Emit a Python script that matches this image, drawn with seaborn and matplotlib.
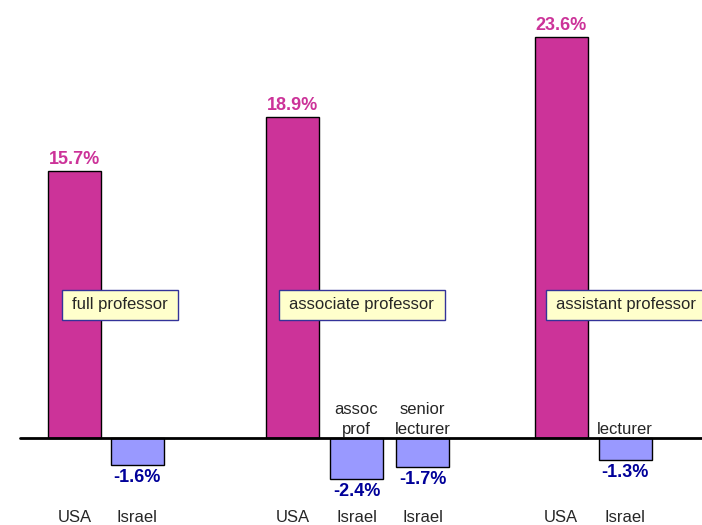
import numpy as np
import pandas as pd
import seaborn as sns
import matplotlib.pyplot as plt
from matplotlib.patches import Rectangle

# data: change in share of women, by rank
groups = ["full professor", "associate professor", "assistant professor"]
usa_change = [15.7, 18.9, 23.6]
israel_rank = ["", "assoc\nprof", "senior\nlecturer", "lecturer"]
israel_change = [-1.6, -2.4, -1.7, -1.3]

# layout (pixel-like x units across the 702 px canvas)
usa_x = [74.5, 292.5, 561]
israel_x = [137, 356.5, 422.5, 625]
box_x = [(62, 178), (279, 445), (546, 712)]
px_per_unit = 17.0
zero_py = 438

df = pd.DataFrame({
    "x": usa_x + israel_x,
    "change": usa_change + israel_change,
    "country": ["USA"] * 3 + ["Israel"] * 4,
})

sns.set_style("white")
plt.rcParams["font.family"] = ["Liberation Sans", "DejaVu Sans"]

fig = plt.figure(figsize=(7.02, 5.25), dpi=100)
ax = fig.add_axes([0, 0, 1, 1])

min_gap = np.min(np.diff(np.sort(df["x"].unique())))
sns.barplot(data=df, x="x", y="change", hue="country",
            palette={"USA": "#CC3399", "Israel": "#9999FF"}, saturation=1,
            native_scale=True, dodge=False, width=53 / min_gap,
            edgecolor="black", linewidth=1, legend=False, ax=ax)

ax.set_xlim(0, 702)
ax.set_ylim((zero_py - 525) / px_per_unit, zero_py / px_per_unit)
ax.axhline(0, xmin=20 / 702, xmax=1, color="black", lw=2, zorder=5)
ax.set_axis_off()

lab_y = (zero_py - 517) / px_per_unit

for x, v in zip(usa_x, usa_change):
    ax.annotate(f"{v:.1f}%", (x, v), xytext=(0, 2), textcoords="offset points",
                ha="center", va="bottom", fontsize=13, fontweight="bold",
                color="#CC3399")
    ax.text(x, lab_y, "USA", ha="center", va="center", fontsize=12)

for x, v, r in zip(israel_x, israel_change, israel_rank):
    ax.annotate(f"{v:.1f}%", (x, v), xytext=(0, -3), textcoords="offset points",
                ha="center", va="top", fontsize=13, fontweight="bold",
                color="#000099")
    ax.text(x, lab_y, "Israel", ha="center", va="center", fontsize=12)
    if r:
        ax.annotate(r, (x, 0), xytext=(0, 1), textcoords="offset points",
                    ha="center", va="bottom", fontsize=12, linespacing=1.35)

by0 = (zero_py - 320) / px_per_unit
by1 = (zero_py - 290) / px_per_unit
for (l, r), g in zip(box_x, groups):
    ax.add_patch(Rectangle((l, by0), r - l, by1 - by0, facecolor="#FFFFCC",
                           edgecolor="#333399", lw=1, zorder=6))
    ax.text(l + 10, (by0 + by1) / 2, g, ha="left", va="center",
            fontsize=12, zorder=7)

fig.savefig("out.png", dpi=100)
